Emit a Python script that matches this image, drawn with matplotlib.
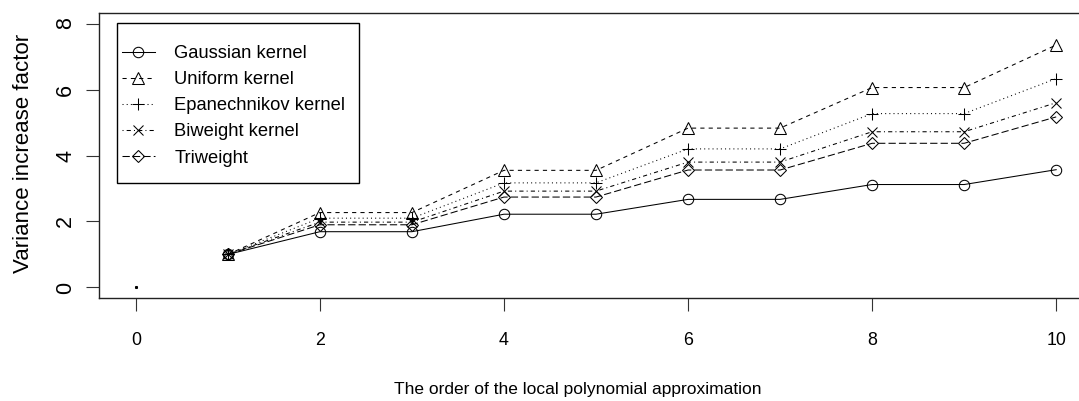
import matplotlib
matplotlib.use("Agg")
import matplotlib.pyplot as plt
from matplotlib.lines import Line2D
from matplotlib.patches import Rectangle

plt.rcParams['font.family'] = ['Liberation Sans', 'DejaVu Sans']

orders = [1, 2, 3, 4, 5, 6, 7, 8, 9, 10]
gaussian = [1.0, 1.69, 1.69, 2.22, 2.22, 2.67, 2.67, 3.12, 3.12, 3.57]
uniform = [1.0, 2.27, 2.27, 3.55, 3.55, 4.83, 4.83, 6.06, 6.06, 7.35]
epanechnikov = [1.0, 2.1, 2.1, 3.17, 3.17, 4.2, 4.2, 5.27, 5.27, 6.33]
biweight = [1.0, 1.98, 1.98, 2.92, 2.92, 3.8, 3.8, 4.72, 4.72, 5.6]
triweight = [1.0, 1.9, 1.9, 2.74, 2.74, 3.56, 3.56, 4.37, 4.37, 5.17]

labels = ["Gaussian kernel", "Uniform kernel", "Epanechnikov kernel",
          "Biweight kernel", "Triweight"]
xticks = [0, 2, 4, 6, 8, 10]
yticks = [0, 2, 4, 6, 8]

W, H = 1079, 401
fig = plt.figure(figsize=(W / 100, H / 100), dpi=100)
ax = fig.add_axes([99 / W, 1 - 298 / H, (1093 - 99) / W, (298 - 13) / H])

lw = 0.75
styles = [
    dict(marker='o', dashes=()),
    dict(marker='^', dashes=(4, 4)),
    dict(marker='+', dashes=(1, 3)),
    dict(marker='x', dashes=(1, 3, 4, 3)),
    dict(marker='D', dashes=(7, 3)),
]
msizes = {'o': 7.5, '^': 8, '+': 9, 'x': 7, 'D': 6}
series = [gaussian, uniform, epanechnikov, biweight, triweight]

handles = []
for vals, st, lab in zip(series, styles, labels):
    m = st['marker']
    kw = dict(color='black', linewidth=lw, marker=m, markersize=msizes[m],
              markerfacecolor='none', markeredgecolor='black', markeredgewidth=0.75)
    line, = ax.plot(orders, vals, **kw)
    if st['dashes']:
        line.set_dashes(st['dashes'])
    h = Line2D([0], [0], **kw)
    if st['dashes']:
        h.set_dashes(st['dashes'])
    handles.append(h)

# the single dot at the origin
ax.plot([0], [0], marker='s', markersize=1.2, color='black', linestyle='none')

ax.set_xlim(-0.4, 10.4)
ax.set_ylim(-0.32, 8.32)
ax.set_xticks(xticks)
ax.set_yticks(yticks)
ax.tick_params(axis='both', direction='out', length=9.5, width=0.8, color='#333333')
ax.tick_params(axis='x', pad=15, labelsize=12.8)
ax.tick_params(axis='y', pad=7, labelsize=15.5)
for lab in ax.get_yticklabels():
    lab.set_rotation(90)
    lab.set_va('center')
for sp in ax.spines.values():
    sp.set_linewidth(1.0)
    sp.set_color('#222222')

fig.text(578 / W, 1 - 394 / H, "The order of the local polynomial approximation",
         ha='center', va='baseline', fontsize=12.5)
fig.text(24 / W, 1 - 153 / H, "Variance increase factor", rotation=90,
         ha='center', va='center', fontsize=16)

leg = ax.legend(handles, labels, loc='upper left',
                bbox_to_anchor=(121.5 / W, 1 - 45 / H), bbox_transform=fig.transFigure,
                borderaxespad=0, borderpad=0, frameon=False, fontsize=13.2,
                handlelength=1.83, handletextpad=1.05, labelspacing=0.5)
fig.patches.append(Rectangle((117 / W, 1 - 183 / H), (359 - 117) / W, (183 - 23) / H,
                             transform=fig.transFigure, fill=False,
                             edgecolor='black', linewidth=1.0))

fig.savefig("out.png", dpi=100)
